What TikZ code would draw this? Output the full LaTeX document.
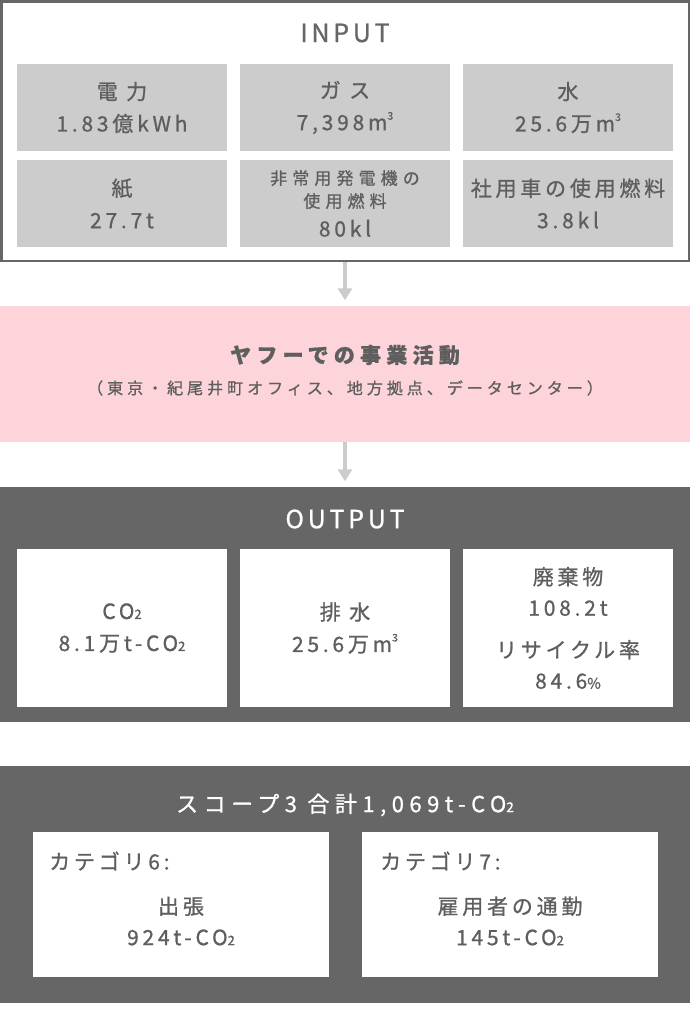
\documentclass[tikz,border=0pt]{standalone}
\usepackage{fontspec}
\setmainfont{Noto Sans CJK JP}[LetterSpace=18, FakeBold=0.9]
\usepackage{tikz}
\usetikzlibrary{positioning,arrows.meta}
\definecolor{boxgray}{HTML}{666666}
\definecolor{cellgray}{HTML}{CCCCCC}
\definecolor{txtgray}{HTML}{5E5E5E}
\definecolor{bizpink}{HTML}{FDD4DA}
\newcommand\subtwo{\scalebox{0.62}{2}}
\newcommand\supthree{\raisebox{0.5em}{\scalebox{0.5}{3}}}
\newcommand\widesp{\addfontfeatures{LetterSpace=25}}
\tikzset{
	inbox/.style={
		rectangle,
		draw=boxgray, line width=2.5pt,
		minimum width=687.5pt,
		minimum height=259.5pt
	},
	darkbox/.style={
		rectangle,
		fill=boxgray,
		minimum width=690pt
	},
	cell/.style={
		rectangle,
		fill=cellgray,
		minimum width=210pt,
		minimum height=87pt,
		inner sep=0pt,
		align=center,
		text=txtgray,
		font=\fontsize{21}{32}\selectfont
	},
	outcell/.style={cell, fill=white, minimum height=158pt},
	catcell/.style={rectangle, fill=white, minimum width=296pt, minimum height=145pt},
	catlabel/.style={anchor=west, inner sep=0pt, text=txtgray, font=\fontsize{21}{24}\selectfont},
	cattext/.style={align=center, inner sep=0pt, text=txtgray, font=\fontsize{21}{31}\selectfont},
	title/.style={inner sep=0pt, font=\fontsize{25}{30}\selectfont\addfontfeatures{LetterSpace=15}},
	flow/.style={draw=cellgray, line width=4.5pt, -{Triangle[length=12pt,width=14pt]}, shorten >=5.5pt},
}
\begin{document}
\begin{tikzpicture}[x=1pt,y=-1pt]
	\useasboundingbox (0,0) rectangle (690,1020);
	% input
	\node[inbox] (input) at (345,131) {};
	\node[title, text=boxgray] (intitle) at (345,33) {INPUT};
	\node[cell] (in1) at (122,107.5) {電 力\\1.83億kWh};
	\node[cell] (in2) at (345,107.5) {ガ ス\\7,398m\supthree};
	\node[cell] (in3) at (568,107.5) {水\\25.6万m\supthree};
	\node[cell] (in4) at (122,203.5) {紙\\27.7t};
	\node[cell, font=\fontsize{17}{23}\selectfont\addfontfeatures{LetterSpace=30}] (in5) at (345,203.5)
		{非常用発電機の\\使用燃料\\[6pt]\fontsize{21}{24}\selectfont\addfontfeatures{LetterSpace=18}80kl};
	\node[cell] (in6) at (568,203.5) {社用車の使用燃料\\3.8kl};
	% business
	\node[rectangle, fill=bizpink, minimum width=690pt, minimum height=136pt] (biz) at (345,374) {};
	\node[inner sep=0pt, text=txtgray, font=\fontsize{21}{25}\selectfont\bfseries\widesp] (biztitle) at (345,355) {ヤフーでの事業活動};
	\node[inner sep=0pt, text=txtgray, font=\fontsize{16}{20}\selectfont\widesp] (bizsub) at (345,388) {（東京・紀尾井町オフィス、地方拠点、データセンター）};
	% output
	\node[darkbox, minimum height=235pt] (output) at (345,604.5) {};
	\node[title, text=white] (outtitle) at (345,519) {OUTPUT};
	\node[outcell] (out1) at (122,628) {CO\subtwo\\8.1万t-CO\subtwo};
	\node[outcell] (out2) at (345,628) {排 水\\25.6万m\supthree};
	\node[outcell, font=\fontsize{21}{31}\selectfont] (out3) at (568,628)
		{廃棄物\\108.2t\\[11pt]リサイクル率\\84.6\scalebox{0.7}{\%}};
	% scope 3
	\node[darkbox, minimum height=237pt] (scopethree) at (345,884.5) {};
	\node[inner sep=0pt, text=white, font=\fontsize{22}{26}\selectfont\widesp] (scopetitle) at (345,805) {スコープ3 合計1,069t-CO\subtwo};
	\node[catcell] (cat6) at (181,904.5) {};
	\node[catcell] (cat7) at (509.5,904.5) {};
	\node[catlabel] (cat6lbl) at (49,861) {カテゴリ6:};
	\node[catlabel] (cat7lbl) at (380,861) {カテゴリ7:};
	\node[cattext] (cat6txt) at (181,921) {出張\\924t-CO\subtwo};
	\node[cattext] (cat7txt) at (510,921) {雇用者の通勤\\145t-CO\subtwo};
	\foreach \from/\to in {input/biz,biz/output}
		\draw[flow] (\from) -- (\to);
\end{tikzpicture}
\end{document}
